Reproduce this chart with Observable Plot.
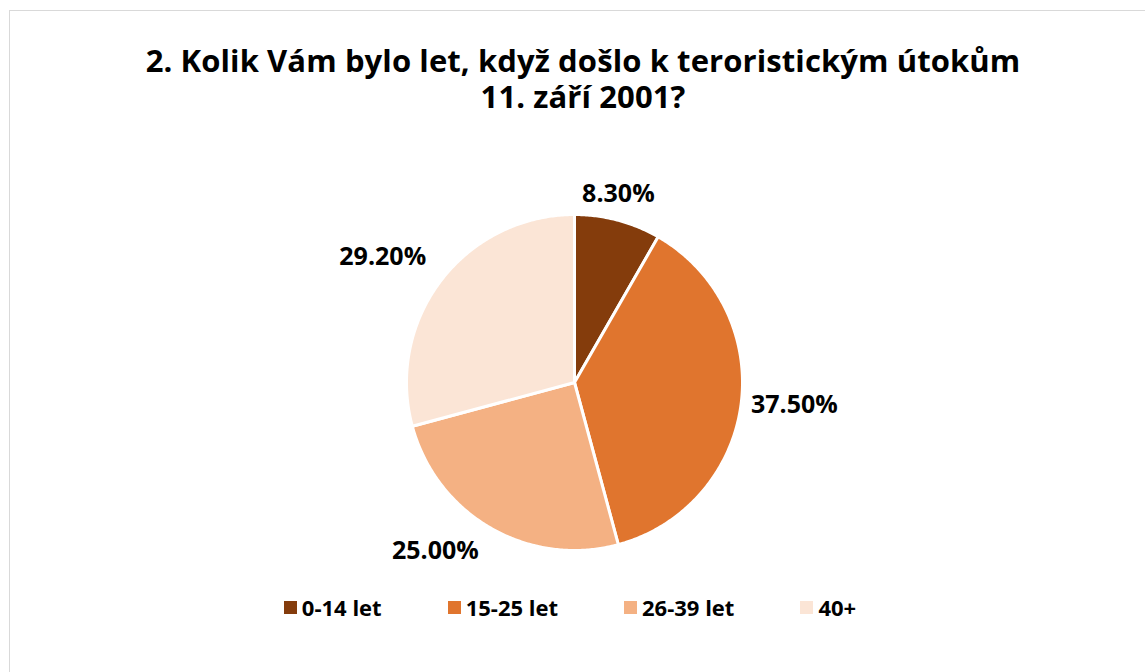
<!DOCTYPE html>
<html>
<head>
<meta charset="utf-8">
<script src="https://cdn.jsdelivr.net/npm/d3@7"></script>
<script src="https://cdn.jsdelivr.net/npm/@observablehq/plot@0.6"></script>
<style>
  html, body { margin: 0; padding: 0; background: #fff; }
  #wrap { position: relative; width: 1145px; height: 672px; overflow: hidden; font-family: "Open Sans", sans-serif; }
  #frame { position: absolute; left: 9px; top: 10px; width: 1200px; height: 700px; border: 1.5px solid #d9d9d9; box-sizing: border-box; }
  .tline { position: absolute; left: 0; width: 1166px; text-align: center; font-weight: 700; font-size: 31px; line-height: 34px; height: 34px; color: #000; letter-spacing: 0.1px; white-space: nowrap; }
  #chart { position: absolute; left: 0; top: 160px; }
  #legend { position: absolute; left: 0; top: 592px; width: 1140px; display: flex; justify-content: center; font-weight: 700; font-size: 22px; color: #000; }
  .item { display: flex; align-items: center; margin: 0 33px; }
  .sw { width: 13px; height: 13px; margin-right: 5px; }
</style>
</head>
<body>
<div id="wrap">
  <div id="frame"></div>
  <div class="tline" style="top:43px">2. Kolik Vám bylo let, když došlo k teroristickým útokům</div>
  <div class="tline" style="top:79px">11. září 2001?</div>
  <div id="chart"></div>
  <div id="legend"></div>
</div>
<script>
const categories = ["0-14 let", "15-25 let", "26-39 let", "40+"];
const values = [8.3, 37.5, 25.0, 29.2];
const labels = ["8.30%", "37.50%", "25.00%", "29.20%"];
const colors = ["#843C0C", "#E0752E", "#F4B183", "#FBE5D6"];

const W = 1145, H = 430, cx = 574, cy = 222, R = 168;

const pie = d3.pie().sort(null).value(d => d.value)(categories.map((c, i) => ({c, value: values[i], label: labels[i]})));
const poly = [];
const labs = [];
pie.forEach(p => {
  const a0 = p.startAngle, a1 = p.endAngle;
  const n = Math.max(4, Math.ceil((a1 - a0) / 0.01));
  poly.push({c: p.data.c, x: 0, y: 0});
  for (let k = 0; k <= n; k++) {
    const a = a0 + (a1 - a0) * k / n;
    poly.push({c: p.data.c, x: Math.sin(a), y: Math.cos(a)});
  }
  poly.push({c: p.data.c, x: 0, y: 0});
  const m = (a0 + a1) / 2, s = Math.sin(m), co = Math.cos(m);
  const rr = 1 + 10 / R;
  labs.push({
    label: p.data.label, x: s * rr, y: co * rr,
    ta: s > 0.3 ? "start" : s < -0.3 ? "end" : "middle",
    la: co > 0.3 ? "bottom" : co < -0.3 ? "top" : "middle"
  });
});

const dxFor = {start: 0, end: -7, middle: -2};
const dyFor = {bottom: -9, top: 4, middle: 0};
const textMarks = ["start", "end", "middle"].flatMap(ta => ["bottom", "top", "middle"].map(la =>
  Plot.text(labs.filter(d => d.ta === ta && d.la === la), {
    x: "x", y: "y", text: "label", textAnchor: ta, lineAnchor: la,
    dx: dxFor[ta], dy: dyFor[la],
    fontSize: 25, fontWeight: 700, fill: "#000"
  })));

const plot = Plot.plot({
  width: W, height: H,
  margin: 0,
  style: {fontFamily: "'Open Sans', sans-serif", background: "transparent", overflow: "visible"},
  x: {domain: [-1, 1], range: [cx - R, cx + R], axis: null},
  y: {domain: [-1, 1], range: [cy + R, cy - R], axis: null},
  color: {domain: categories, range: colors},
  marks: [
    Plot.line(poly, {x: "x", y: "y", z: "c", fill: "c", stroke: "#fff", strokeWidth: 3, strokeLinejoin: "round", curve: "linear"}),
    ...textMarks
  ]
});
document.getElementById("chart").appendChild(plot);

const leg = document.getElementById("legend");
categories.forEach((c, i) => {
  const it = document.createElement("div");
  it.className = "item";
  it.innerHTML = `<span class="sw" style="background:${colors[i]}"></span><span>${c}</span>`;
  leg.appendChild(it);
});
</script>
</body>
</html>
